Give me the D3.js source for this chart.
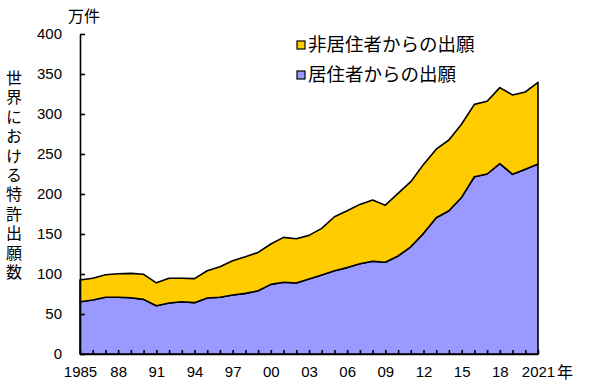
<!DOCTYPE html>
<html><head><meta charset="utf-8">
<script src="https://cdn.jsdelivr.net/npm/d3@7"></script>
<style>
body{margin:0;background:#fff;}
svg{display:block;font-family:"Noto Sans CJK JP","Noto Sans",sans-serif;}
</style></head>
<body><svg id="c" width="600" height="390"></svg>
<script>
const years = d3.range(1985, 2022);
const resident = [65.4,67.5,71,71,70.4,68.3,60.4,63.7,65.4,64.2,70,71,73.8,75.8,79,87,89.6,88.8,93.8,98.8,104,108,112.9,116,114.6,122.5,134,150.8,170.4,179,196,221.6,225,238,224.6,231,237.5];
const total = [92.5,94.6,99,100.4,100.8,99.6,89,94.6,94.6,94.2,104,109,116.6,121.6,127,137.5,145.8,144,148.3,157,171.6,179,187,192.5,186,200.8,215.4,237,256,267.5,287.5,312,316,333,323.8,327.5,339.6];
const nonresident = total.map((t,i)=>+(t-resident[i]).toFixed(1));
const seriesNames = ["居住者からの出願","非居住者からの出願"];
const colors = ["#9999FF","#FFCC00"];
const yTicks = [0,50,100,150,200,250,300,350,400];
const xLabelYears = [1985,1988,1991,1994,1997,2000,2003,2006,2009,2012,2015,2018,2021];
const xLabels = ["1985","88","91","94","97","00","03","06","09","12","15","18","2021"];

const svg = d3.select("#c");
const x = d3.scaleLinear().domain([1985,2021]).range([80,538]);
const y = d3.scaleLinear().domain([0,400]).range([354,34]);

const rows = years.map((yr,i)=>({year:yr,res:resident[i],non:nonresident[i]}));
const stack = d3.stack().keys(["res","non"])(rows);
const area = d3.area().x(d=>x(d.data.year)).y0(d=>y(d[0])).y1(d=>y(d[1]));

svg.append("g").selectAll("path").data(stack).join("path")
  .attr("d",area).attr("fill",(d,i)=>colors[i])
  .attr("stroke","#000").attr("stroke-width",1.6).attr("stroke-linejoin","round");

// Y axis
const yAxis = d3.axisLeft(y).tickValues(yTicks).tickSizeInner(-5).tickSizeOuter(0).tickPadding(18);
const gy = svg.append("g").attr("transform","translate(80,0)").call(yAxis);
gy.selectAll("text").attr("font-size",15).attr("fill","#000").attr("font-family","Liberation Sans, Arial, sans-serif");
gy.select(".domain").attr("stroke","#000").attr("stroke-width",1.6);
gy.selectAll(".tick line").attr("stroke","#000").attr("stroke-width",1.6);

// X axis
const xAxis = d3.axisBottom(x).tickValues(years).tickSizeInner(-4).tickSizeOuter(0).tickPadding(12)
  .tickFormat(d=>{const k=xLabelYears.indexOf(d);return k>=0?xLabels[k]:"";});
const gx = svg.append("g").attr("transform","translate(0,354)").call(xAxis);
gx.selectAll("text").attr("font-size",15).attr("fill","#000").attr("font-family","Liberation Sans, Arial, sans-serif");
gx.select(".domain").attr("stroke","#000").attr("stroke-width",1.6);
gx.selectAll(".tick line").attr("stroke","#000").attr("stroke-width",1.6);

svg.append("text").attr("x",565).attr("y",378).attr("text-anchor","middle").attr("font-size",16).text("年");
svg.append("text").attr("x",68).attr("y",22).attr("font-size",16).text("万件");

// vertical title as one text in vertical writing mode
svg.append("text").attr("x",14).attr("y",70)
  .style("writing-mode","vertical-rl").style("text-orientation","upright")
  .attr("font-size",16).attr("letter-spacing",3.4).text("世界における特許出願数");

// legend (non-resident on top)
const legend = [{name:seriesNames[1],color:colors[1]},{name:seriesNames[0],color:colors[0]}];
const lg = svg.append("g").selectAll("g").data(legend).join("g")
  .attr("transform",(d,i)=>`translate(297,${41+i*30})`);
lg.append("rect").attr("width",8).attr("height",8).attr("fill",d=>d.color).attr("stroke","#000").attr("stroke-width",1.2);
lg.append("text").attr("x",11).attr("y",10).attr("font-size",18.5).text(d=>d.name);
</script></body></html>
